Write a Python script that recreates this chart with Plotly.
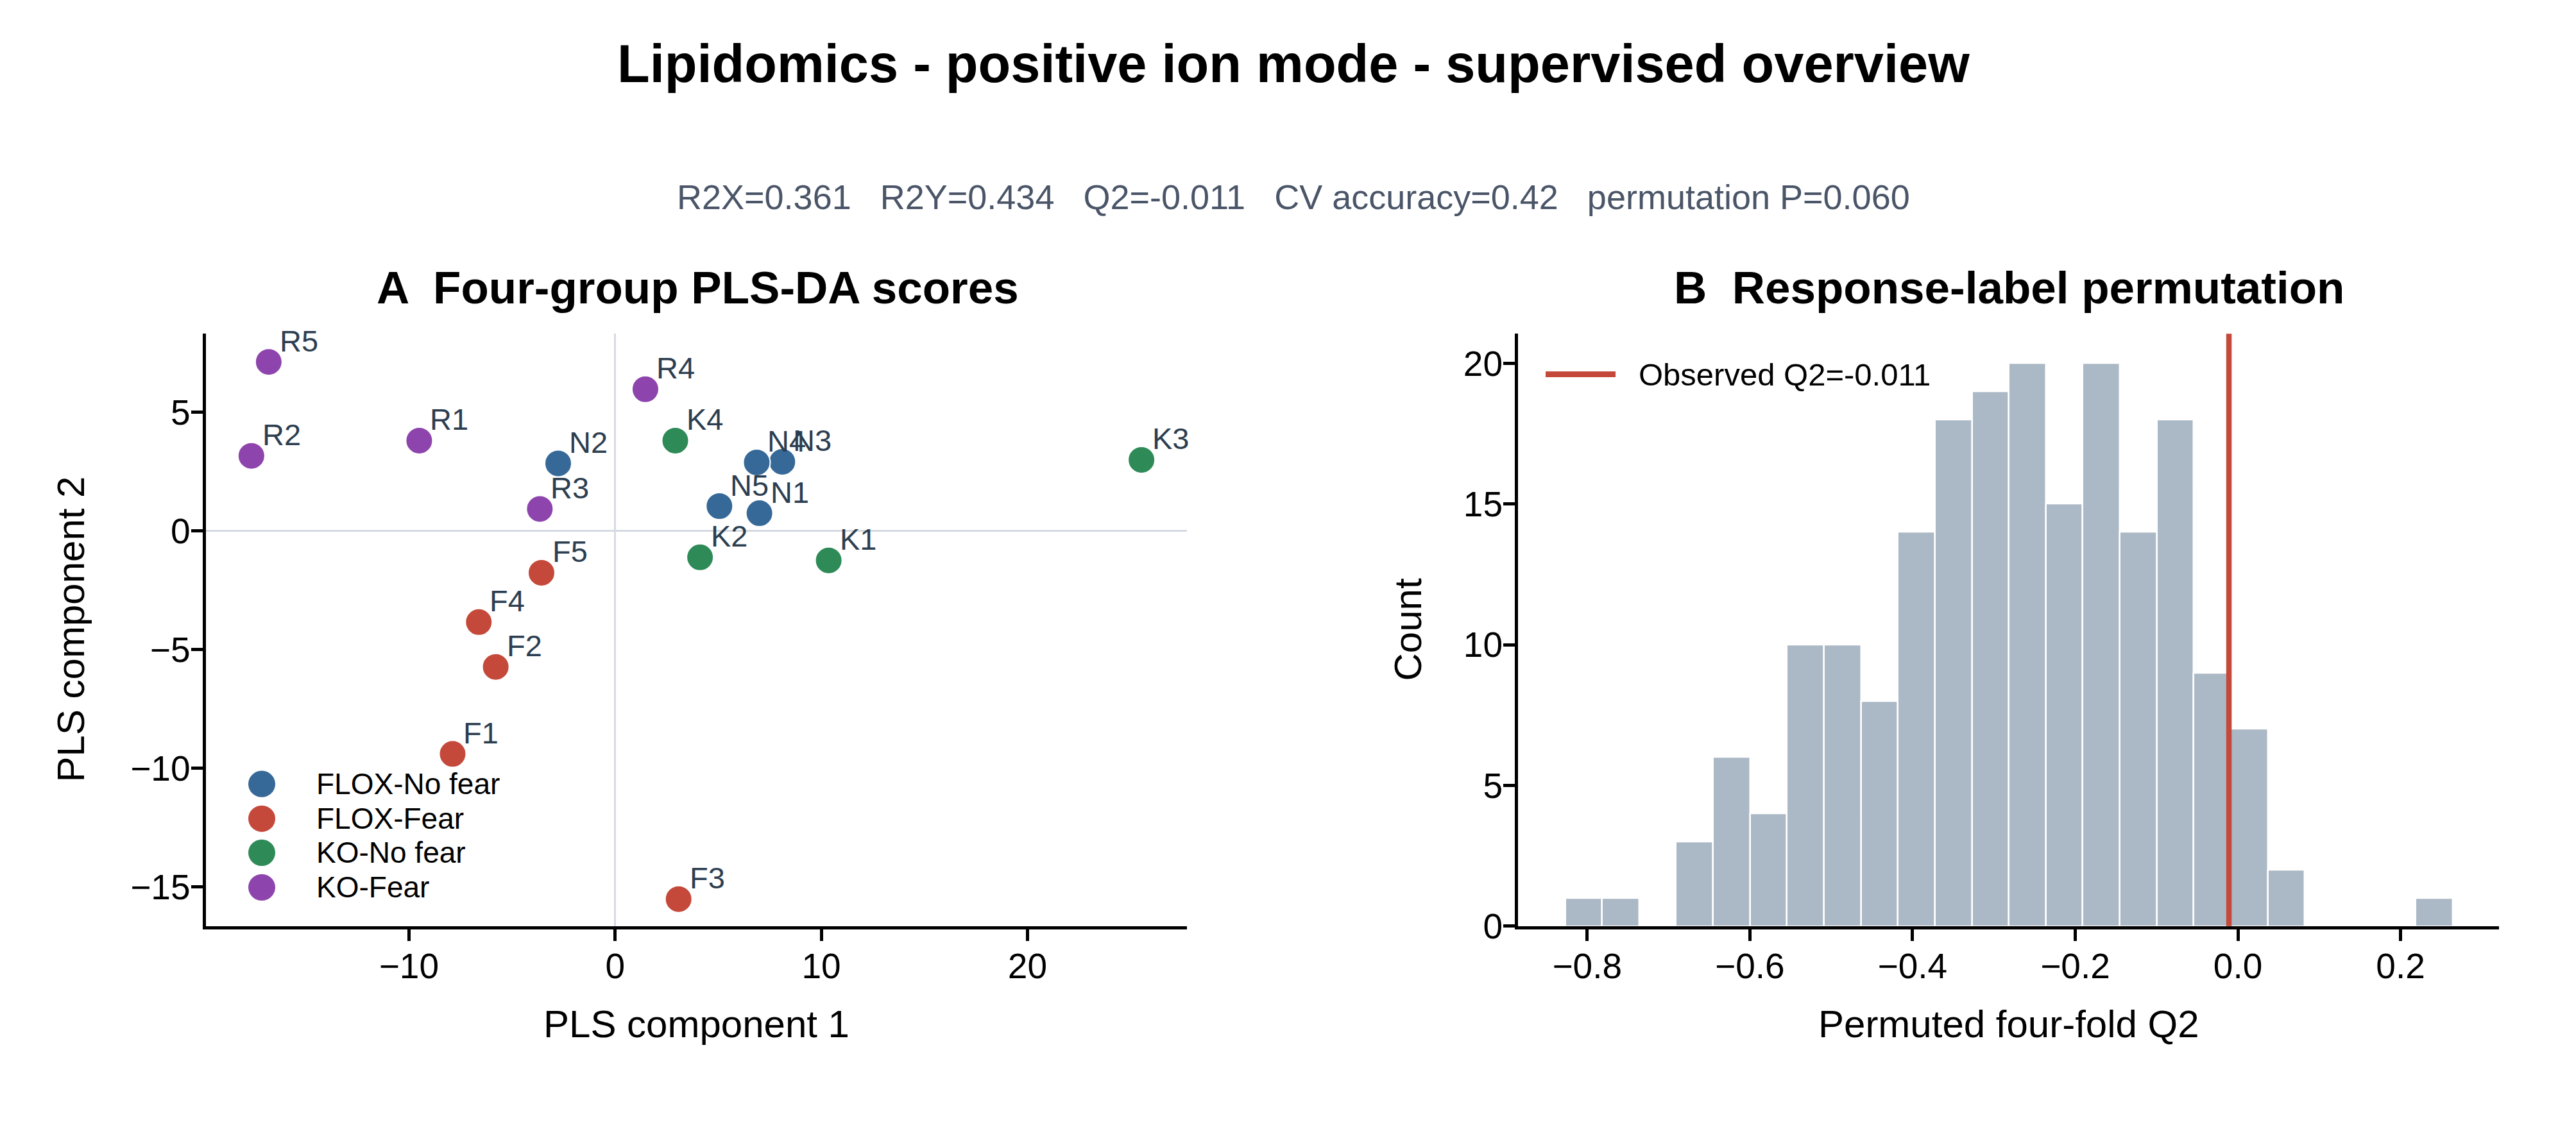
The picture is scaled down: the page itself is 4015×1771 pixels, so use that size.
import plotly.graph_objects as go

W, H = 4015, 1771
FONT = "Liberation Sans, Arial, Helvetica, sans-serif"

# ---------------- data ----------------
group_names = ["FLOX-No fear", "FLOX-Fear", "KO-No fear", "KO-Fear"]
group_colors = ["#366998", "#c5493a", "#2e8b57", "#8e44ad"]

n_labels = ["N1", "N2", "N3", "N4", "N5"]
n_pc1 = [7.00, -2.76, 8.11, 6.87, 5.06]
n_pc2 = [0.75, 2.85, 2.92, 2.89, 1.05]

f_labels = ["F1", "F2", "F3", "F4", "F5"]
f_pc1 = [-7.88, -5.79, 3.08, -6.61, -3.57]
f_pc2 = [-9.40, -5.73, -15.52, -3.84, -1.76]

k_labels = ["K1", "K2", "K3", "K4"]
k_pc1 = [10.36, 4.12, 25.53, 2.92]
k_pc2 = [-1.24, -1.11, 3.00, 3.81]

r_labels = ["R1", "R2", "R3", "R4", "R5"]
r_pc1 = [-9.50, -17.64, -3.65, 1.47, -16.80]
r_pc2 = [3.81, 3.17, 0.93, 5.98, 7.13]

perm_bin_start = -0.827
perm_bin_width = 0.04546
perm_counts = [1, 1, 0, 3, 6, 4, 10, 10, 8, 14, 18, 19, 20, 15, 20, 14, 18, 9, 7, 2, 0, 0, 0, 1]
observed_q2 = -0.011

title_text = "Lipidomics - positive ion mode - supervised overview"
subtitle_text = "R2X=0.361   R2Y=0.434   Q2=-0.011   CV accuracy=0.42   permutation P=0.060"

a_xticks = [-10, 0, 10, 20]
a_xtick_text = ["\u221210", "0", "10", "20"]
a_yticks = [-15, -10, -5, 0, 5]
a_ytick_text = ["\u221215", "\u221210", "\u22125", "0", "5"]
b_xticks = [-0.8, -0.6, -0.4, -0.2, 0.0, 0.2]
b_xtick_text = ["\u22120.8", "\u22120.6", "\u22120.4", "\u22120.2", "0.0", "0.2"]
b_yticks = [0, 5, 10, 15, 20]

# ---------------- helpers ----------------
def px(x):
    return x / W

def py(y):
    return 1 - y / H

groups = [
    (n_labels, n_pc1, n_pc2),
    (f_labels, f_pc1, f_pc2),
    (k_labels, k_pc1, k_pc2),
    (r_labels, r_pc1, r_pc2),
]

fig = go.Figure()

MS = 42
for (labs, xs, ys), name, col in zip(groups, group_names, group_colors):
    fig.add_trace(go.Scatter(
        x=xs, y=ys, mode="markers", name=name, text=labs,
        marker=dict(size=MS, color=col, line=dict(color="white", width=2)),
        xaxis="x", yaxis="y", showlegend=False,
    ))

centers = [perm_bin_start + (i + 0.5) * perm_bin_width for i in range(len(perm_counts))]
fig.add_trace(go.Bar(
    x=centers, y=perm_counts, width=perm_bin_width,
    marker=dict(color="#abb8c5", line=dict(color="white", width=2.5)),
    xaxis="x2", yaxis="y2", showlegend=False, name="Permuted Q2",
))

annotations = []
shapes = []

# point labels
for (labs, xs, ys) in groups:
    for lab, x, y in zip(labs, xs, ys):
        annotations.append(dict(
            x=x, y=y, xref="x", yref="y", text=lab, showarrow=False,
            xanchor="left", yanchor="middle", xshift=15, yshift=33,
            font=dict(family=FONT, size=47, color="#2c3e50"),
        ))

# titles
annotations.append(dict(x=0.502, y=py(101), xref="paper", yref="paper", text="<b>" + title_text + "</b>",
                        showarrow=False, xanchor="center", yanchor="middle",
                        font=dict(family=FONT, size=83, color="black")))
annotations.append(dict(x=0.502, y=py(312), xref="paper", yref="paper", text=subtitle_text,
                        showarrow=False, xanchor="center", yanchor="middle",
                        font=dict(family=FONT, size=54, color="#4a5568")))
annotations.append(dict(x=px(1087), y=py(456), xref="paper", yref="paper",
                        text="<b>A  Four-group PLS-DA scores</b>",
                        showarrow=False, xanchor="center", yanchor="middle",
                        font=dict(family=FONT, size=71, color="black")))
annotations.append(dict(x=px(3131), y=py(456), xref="paper", yref="paper",
                        text="<b>B  Response-label permutation</b>",
                        showarrow=False, xanchor="center", yanchor="middle",
                        font=dict(family=FONT, size=71, color="black")))

# axis titles
annotations.append(dict(x=px(1085), y=py(1625), xref="paper", yref="paper", text="PLS component 1",
                        showarrow=False, xanchor="center", yanchor="middle",
                        font=dict(family=FONT, size=60, color="black")))
annotations.append(dict(x=px(3131), y=py(1625), xref="paper", yref="paper", text="Permuted four-fold Q2",
                        showarrow=False, xanchor="center", yanchor="middle",
                        font=dict(family=FONT, size=60, color="black")))
annotations.append(dict(x=px(111), y=py(999), xref="paper", yref="paper", text="PLS component 2",
                        showarrow=False, xanchor="center", yanchor="middle", textangle=-90,
                        font=dict(family=FONT, size=60, color="black")))
annotations.append(dict(x=px(2195), y=py(999), xref="paper", yref="paper", text="Count",
                        showarrow=False, xanchor="center", yanchor="middle", textangle=-90,
                        font=dict(family=FONT, size=60, color="black")))

# legend A (drawn: plotly caps legend marker size)
leg_y = [1244, 1299, 1353, 1408]
R = 22
for name, col, yy in zip(group_names, group_colors, leg_y):
    shapes.append(dict(type="circle", xref="paper", yref="paper",
                       x0=px(408 - R), x1=px(408 + R), y0=py(yy + R), y1=py(yy - R),
                       fillcolor=col, line=dict(color="white", width=2)))
    annotations.append(dict(x=px(491), y=py(yy), xref="paper", yref="paper", text=name,
                            showarrow=False, xanchor="left", yanchor="middle",
                            font=dict(family=FONT, size=46, color="black")))

# legend B
shapes.append(dict(type="line", xref="paper", yref="paper", x0=px(2409), x1=px(2518),
                   y0=py(594), y1=py(594), line=dict(color="#c5493a", width=9)))
annotations.append(dict(x=px(2552), y=py(594), xref="paper", yref="paper",
                        text="Observed Q2=%.3f" % observed_q2,
                        showarrow=False, xanchor="left", yanchor="middle",
                        font=dict(family=FONT, size=49, color="black")))

# observed line
shapes.append(dict(type="line", xref="x2", yref="y2 domain", x0=observed_q2, x1=observed_q2,
                   y0=0, y1=1, line=dict(color="#c5493a", width=8.5), layer="above"))

ydom = [1 - 1469.5 / H, 1 - 529.5 / H]
axis_common = dict(showline=True, linecolor="black", linewidth=5, ticks="outside",
                   ticklen=18, tickwidth=4.5, tickcolor="black", showgrid=False,
                   tickfont=dict(family=FONT, size=55, color="black"), mirror=False)

fig.update_layout(
    width=W, height=H,
    margin=dict(l=0, r=0, t=0, b=0),
    paper_bgcolor="white", plot_bgcolor="white",
    showlegend=False, bargap=0,
    xaxis=dict(domain=[320.5 / W, 1849.5 / W], range=[-19.86, 27.72],
               tickvals=a_xticks, ticktext=a_xtick_text,
               zeroline=True, zerolinecolor="#d6dbe2", zerolinewidth=3.3,
               anchor="y", ticklabelstandoff=-8, **axis_common),
    yaxis=dict(domain=ydom, range=[-16.66, 8.32],
               tickvals=a_yticks, ticktext=a_ytick_text,
               zeroline=True, zerolinecolor="#d6dbe2", zerolinewidth=3.3,
               anchor="x", ticklabelstandoff=-10, **axis_common),
    xaxis2=dict(domain=[2366 / W, 3895 / W], range=[-0.885, 0.321],
                tickvals=b_xticks, ticktext=b_xtick_text, zeroline=False,
                anchor="y2", ticklabelstandoff=-8, **axis_common),
    yaxis2=dict(domain=ydom, range=[0, 21.05], tickvals=b_yticks,
                zeroline=False, anchor="x2", ticklabelstandoff=-10, **axis_common),
    annotations=annotations,
    shapes=shapes,
)

fig.write_html("out.html", config={"displayModeBar": False},
               post_script="document.body.style.margin='0';")
